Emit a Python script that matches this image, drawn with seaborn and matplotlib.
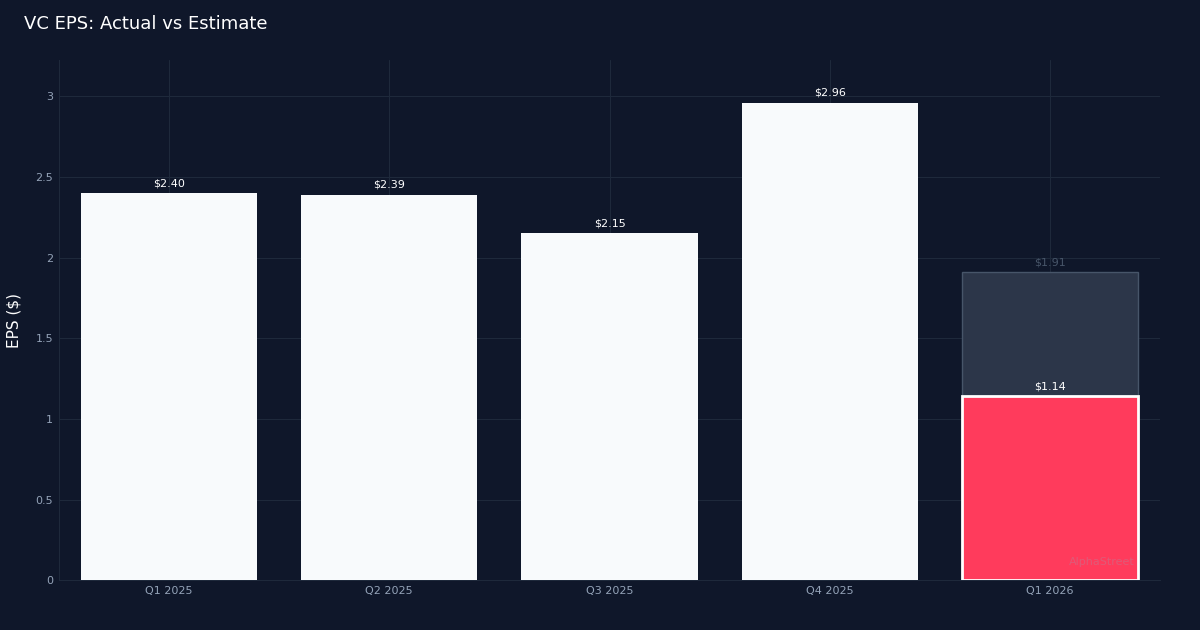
import matplotlib
matplotlib.use("Agg")
import matplotlib.pyplot as plt
import seaborn as sns
import numpy as np
import pandas as pd

quarters = ["Q1 2025", "Q2 2025", "Q3 2025", "Q4 2025", "Q1 2026"]
actual_eps = [2.40, 2.39, 2.15, 2.96, 1.14]
estimate_eps = [np.nan, np.nan, np.nan, np.nan, 1.91]
bar_colors = ["#f8fafc", "#f8fafc", "#f8fafc", "#f8fafc", "#ff3b5c"]

BG = "#0f172a"
GRID = "#1e293b"
TICK = "#94a3b8"

sns.set_theme(style="dark")
plt.rcParams["font.family"] = ["DejaVu Sans"]

df = pd.DataFrame({"quarter": quarters, "actual": actual_eps, "estimate": estimate_eps})

fig = plt.figure(figsize=(12, 6.3), dpi=100, facecolor=BG)
ax = fig.add_axes([0.049, 0.079, 0.918, 0.826])
ax.set_facecolor(BG)

# estimate bars behind the actuals
sns.barplot(data=df, x="quarter", y="estimate", color="#2c3649", width=0.8,
            edgecolor="#475569", linewidth=1, saturation=1, ax=ax, zorder=2)
est_patches = list(ax.patches)

sns.barplot(data=df, x="quarter", y="actual", hue="quarter", palette=bar_colors,
            width=0.8, legend=False, ax=ax, zorder=3, saturation=1, linewidth=0)
act_patches = [p for p in ax.patches if p not in est_patches]

# white outline on the latest quarter
last = act_patches[-1]
last.set_edgecolor("white")
last.set_linewidth(2)

for i, (a, e) in enumerate(zip(actual_eps, estimate_eps)):
    ax.text(i, a + 0.03, f"${a:.2f}", ha="center", va="bottom", fontsize=8,
            color="white", zorder=5)
    if not np.isnan(e):
        ax.text(i, e + 0.03, f"${e:.2f}", ha="center", va="bottom", fontsize=8,
                color="#475569", zorder=5)

ax.set_xlim(-0.5, 4.5)
ax.set_ylim(0, max(actual_eps) * 1.09)
ax.set_yticks([0, 0.5, 1, 1.5, 2, 2.5, 3])
ax.set_yticklabels(["0", "0.5", "1", "1.5", "2", "2.5", "3"])
ax.grid(True, color=GRID, linewidth=0.8, zorder=0)
ax.set_axisbelow(True)
ax.tick_params(colors=TICK, labelsize=8, length=0, pad=4)
for side in ["top", "right"]:
    ax.spines[side].set_visible(False)
for side in ["left", "bottom"]:
    ax.spines[side].set_color(GRID)
    ax.spines[side].set_linewidth(0.8)

ax.set_xlabel("")
ax.set_ylabel("EPS ($)", color="white", fontsize=11, labelpad=10)
fig.text(0.02, 0.962, "VC EPS: Actual vs Estimate", color="white", fontsize=13,
         ha="left", va="center")
ax.text(0.977, 0.035, "AlphaStreet", transform=ax.transAxes, ha="right",
        va="center", fontsize=8, color="#94a3b8", alpha=0.3, zorder=6)

fig.savefig("out.png", dpi=100, facecolor=BG)
